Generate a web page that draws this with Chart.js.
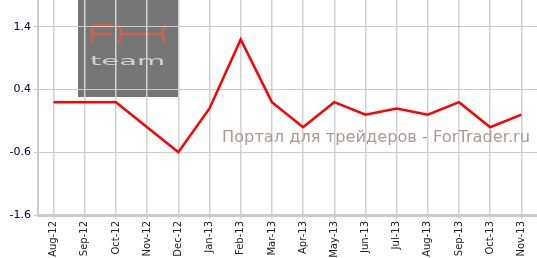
<!DOCTYPE html>
<html>
<head>
<meta charset="utf-8">
<script src="https://cdn.jsdelivr.net/npm/chart.js@4"></script>
<style>
  body { margin: 0; background: #fff; }
  #wrap { width: 537px; height: 258px; position: relative; }
</style>
</head>
<body>
<div id="wrap"><canvas id="lineChart"></canvas></div>
<script>
const months = ["Aug-12", "Sep-12", "Oct-12", "Nov-12", "Dec-12", "Jan-13", "Feb-13", "Mar-13",
                "Apr-13", "May-13", "Jun-13", "Jul-13", "Aug-13", "Sep-13", "Oct-13", "Nov-13"];
const values = [0.2, 0.2, 0.2, -0.2, -0.6, 0.1, 1.2, 0.2, -0.2, 0.2, 0.0, 0.1, 0.0, 0.2, -0.2, 0.0];
const yTicks = [-1.6, -0.6, 0.4, 1.4];

// watermark: grey logo box under the grid, site caption on top
const watermark = {
    id: 'watermark',
    beforeDraw(chart) {
        const c = chart.ctx;
        c.save();
        c.fillStyle = '#767676';
        c.fillRect(78, 0, 100, 97);
        // stylised "FX"
        c.strokeStyle = '#d2604f';
        c.lineWidth = 2.6;
        c.lineCap = 'butt';
        c.beginPath();
        c.moveTo(112, 25); c.lineTo(97, 25); c.quadraticCurveTo(92, 25, 92, 30); c.lineTo(92, 43);
        c.moveTo(92, 34); c.lineTo(111, 34);
        c.moveTo(118, 25); c.quadraticCurveTo(125, 34, 118, 43);
        c.moveTo(166, 25); c.quadraticCurveTo(159, 34, 166, 43);
        c.moveTo(122, 34); c.lineTo(162, 34);
        c.stroke();
        // "team"
        c.fillStyle = '#d0d0d0';
        c.font = '20px "DejaVu Sans"';
        c.textBaseline = 'alphabetic';
        c.setTransform(1.45, 0, 0, 0.65, 0, 0);
        c.fillText('team', 90 / 1.45, 65 / 0.65);
        c.restore();
    },
    afterDraw(chart) {
        const c = chart.ctx;
        c.save();
        c.fillStyle = '#a89a9a';
        c.font = '16px "DejaVu Sans"';
        c.textBaseline = 'middle';
        const txt = 'Портал для трейдеров - ForTrader.ru';
        const w = c.measureText(txt).width;
        const sx = 308 / w;
        c.setTransform(sx, 0, 0, 1, 0, 0);
        c.fillText(txt, 222 / sx, 138);
        c.restore();
    }
};

const ctx = document.getElementById('lineChart').getContext('2d');
const lineChart = new Chart(ctx, {
    type: 'line',
    data: {
        labels: months,
        datasets: [{
            data: values,
            borderColor: '#ff0000',
            borderWidth: 2.5,
            pointRadius: 0,
            tension: 0,
            fill: false
        }]
    },
    options: {
        responsive: true,
        maintainAspectRatio: false,
        animation: false,
        layout: { padding: 0 },
        plugins: {
            legend: { display: false },
            tooltip: { enabled: false }
        },
        scales: {
            x: {
                offset: true,
                afterFit(s) { s.height = 43; s.paddingLeft = 0; s.paddingRight = 0; },
                grid: {
                    offset: false,
                    color: '#d2d2d2',
                    lineWidth: 1.5,
                    tickLength: 4
                },
                border: { color: '#cccccc', width: 3 },
                ticks: {
                    minRotation: 90,
                    maxRotation: 90,
                    autoSkip: false,
                    padding: 2,
                    color: '#222222',
                    font: { family: 'Verdana, "DejaVu Sans"', size: 10 }
                }
            },
            y: {
                min: -1.6,
                max: 1.83,
                afterFit(s) { s.width = 38; s.paddingTop = 0; s.paddingBottom = 0; },
                afterBuildTicks(s) { s.ticks = yTicks.map(v => ({ value: v })); },
                grid: {
                    color: '#cccccc',
                    lineWidth: 1,
                    tickLength: 4
                },
                border: { color: '#cccccc', width: 2 },
                ticks: {
                    padding: 3,
                    color: '#000040',
                    callback: v => v.toFixed(1),
                    font: { family: 'Verdana, "DejaVu Sans"', size: 11 }
                }
            }
        }
    },
    plugins: [watermark]
});
</script>
</body>
</html>
